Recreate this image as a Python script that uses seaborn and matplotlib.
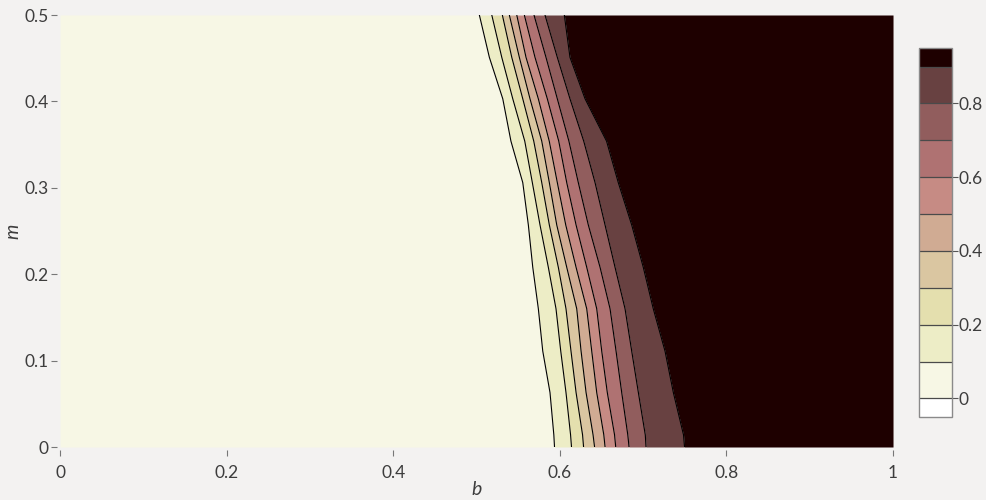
import numpy as np
import matplotlib
matplotlib.use("Agg")
import matplotlib as mpl
import matplotlib.pyplot as plt
from matplotlib.colors import ListedColormap, BoundaryNorm, Normalize
import seaborn as sns

# ---- data ----
levels = [0.0, 0.1, 0.2, 0.3, 0.4, 0.5, 0.6, 0.7, 0.8, 0.9]
m_rows = [0.500, 0.451, 0.403, 0.354, 0.306, 0.257, 0.208, 0.160, 0.111, 0.063, 0.014, 0.000]
# b-position of each contour level (0.1 ... 0.9) along the m rows
b_c01 = [0.5034, 0.5154, 0.5315, 0.5413, 0.5555, 0.5622, 0.5675, 0.5742, 0.5795, 0.5882, 0.5928, 0.5936]
b_c02 = [0.5183, 0.5303, 0.5435, 0.5579, 0.5670, 0.5762, 0.5862, 0.5954, 0.6011, 0.6074, 0.6129, 0.6140]
b_c03 = [0.5310, 0.5423, 0.5555, 0.5687, 0.5783, 0.5874, 0.5982, 0.6074, 0.6134, 0.6195, 0.6273, 0.6285]
b_c04 = [0.5394, 0.5514, 0.5642, 0.5783, 0.5874, 0.5963, 0.6083, 0.6203, 0.6255, 0.6315, 0.6399, 0.6417]
b_c05 = [0.5483, 0.5594, 0.5742, 0.5873, 0.5970, 0.6071, 0.6195, 0.6323, 0.6383, 0.6443, 0.6528, 0.6543]
b_c06 = [0.5574, 0.5702, 0.5850, 0.5987, 0.6083, 0.6195, 0.6323, 0.6443, 0.6503, 0.6570, 0.6657, 0.6671]
b_c07 = [0.5690, 0.5834, 0.5970, 0.6109, 0.6222, 0.6342, 0.6483, 0.6603, 0.6675, 0.6743, 0.6816, 0.6831]
b_c08 = [0.5822, 0.5970, 0.6122, 0.6287, 0.6423, 0.6543, 0.6663, 0.6783, 0.6863, 0.6943, 0.7026, 0.7035]
b_c09 = [0.6054, 0.6122, 0.6303, 0.6561, 0.6702, 0.6863, 0.7002, 0.7122, 0.7263, 0.7363, 0.7485, 0.7497]
contour_lines = [b_c01, b_c02, b_c03, b_c04, b_c05, b_c06, b_c07, b_c08, b_c09]

x_ticks = [0, 0.2, 0.4, 0.6, 0.8, 1]
x_ticklabels = ["0", "0.2", "0.4", "0.6", "0.8", "1"]
y_ticks = [0, 0.1, 0.2, 0.3, 0.4, 0.5]
y_ticklabels = ["0", "0.1", "0.2", "0.3", "0.4", "0.5"]
cb_ticks = [0, 0.2, 0.4, 0.6, 0.8]
cb_ticklabels = ["0", "0.2", "0.4", "0.6", "0.8"]
x_label = "b"
y_label = "m"

# ---- style ----
sns.set_theme(style="white")
BG = "#f3f2f1"
TXT = "#3d3d3d"
plt.rcParams["font.family"] = ["Lato", "DejaVu Sans"]
plt.rcParams["text.color"] = TXT
plt.rcParams["xtick.color"] = "#777777"
plt.rcParams["ytick.color"] = "#777777"
plt.rcParams["xtick.labelcolor"] = TXT
plt.rcParams["ytick.labelcolor"] = TXT

cmap_full = mpl.colormaps["pink_r"]
cnorm = Normalize(-0.05, 0.95)
band_colors = [cmap_full(cnorm(l + 0.05)) for l in levels[:-1]]
under_color = cmap_full(0.0)
over_color = cmap_full(1.0)

fig = plt.figure(figsize=(9.86, 5.0), dpi=100, facecolor=BG)
ax = fig.add_axes([0.0609, 0.106, 0.8448, 0.864])
ax.set_facecolor(BG)

m = np.array(m_rows)
left_edges = [np.zeros_like(m)] + [np.array(c) for c in contour_lines]
right_edges = [np.array(c) for c in contour_lines] + [np.ones_like(m)]
fill_colors = band_colors + [over_color]
for le, re, col in zip(left_edges, right_edges, fill_colors):
    ax.fill_betweenx(m, le, re, color=col, linewidth=0, antialiased=True)

for c in contour_lines:
    sns.lineplot(x=c, y=m_rows, orient="y", estimator=None, sort=True,
                 color="black", linewidth=0.8, ax=ax)

ax.set_xlim(0, 1)
ax.set_ylim(0, 0.5)
ax.set_xticks(x_ticks)
ax.set_xticklabels(x_ticklabels)
ax.set_yticks(y_ticks)
ax.set_yticklabels(y_ticklabels)
for s in ax.spines.values():
    s.set_visible(False)
ax.spines["left"].set_position(("outward", 2))
ax.spines["bottom"].set_position(("outward", 2))
ax.tick_params(axis="both", which="major", length=4, width=0.8, labelsize=12.5, pad=2,
               left=True, bottom=True)
ax.tick_params(axis="x", pad=7)
ax.set_xlabel(x_label, fontstyle="italic", fontsize=14, labelpad=0, color=TXT)
ax.set_ylabel(y_label, fontstyle="italic", fontsize=14, color=TXT)
ax.yaxis.set_label_coords(-0.046, 0.5)

# ---- colorbar ----
cax = fig.add_axes([0.932, 0.1667, 0.0335, 0.7366])
cb_cmap = ListedColormap(band_colors)
cb_cmap.set_under(under_color)
cb_cmap.set_over(over_color)
bnorm = BoundaryNorm(levels, len(band_colors))
cb = mpl.colorbar.ColorbarBase(cax, cmap=cb_cmap, norm=bnorm, extend="both",
                               extendrect=True, extendfrac=0.055, drawedges=True,
                               ticks=cb_ticks, spacing="uniform")
cb.minorticks_off()
cb.set_ticks(cb_ticks)
cb.set_ticklabels(cb_ticklabels)
cb.outline.set_edgecolor("#8a8a8a")
cb.outline.set_linewidth(1.0)
cb.dividers.set_color("#4a4a4a")
cb.dividers.set_linewidth(0.9)
cax.tick_params(which="minor", length=0)
cax.tick_params(which="major", length=4, width=0.8, color="#555555", labelsize=12.5, pad=1,
                direction="out")

fig.savefig("out.png", dpi=100, facecolor=BG)
